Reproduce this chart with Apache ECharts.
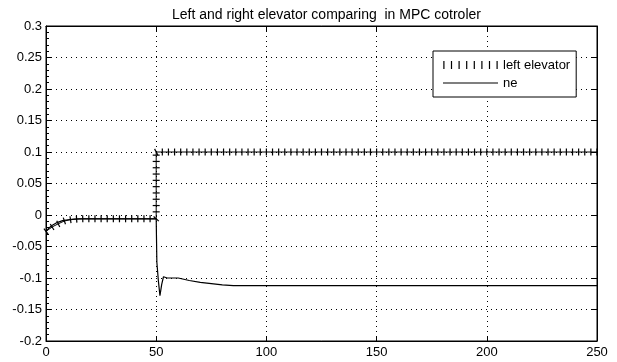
<!DOCTYPE html>
<html>
<head>
<meta charset="utf-8">
<script src="https://cdn.jsdelivr.net/npm/echarts@6/dist/echarts.min.js"></script>
<style>
  html, body { margin: 0; padding: 0; background: #fff; }
  #chart { width: 617px; height: 362px; }
</style>
</head>
<body>
<div id="chart"></div>
<script>
const titleText = 'Left and right elevator comparing  in MPC cotroler';
const seriesNames = ['left elevator', 'ne'];
const xTicks = [0, 50, 100, 150, 200, 250];
const yTicks = [-0.2, -0.15, -0.1, -0.05, 0, 0.05, 0.1, 0.15, 0.2, 0.25, 0.3];

// left elevator: sampled every 50/18 time units from 0 to 250
const leftStep = 50 / 18;
const leftValues = [
  -0.026, -0.019, -0.014, -0.0095, -0.0075, -0.0065, -0.006, -0.006, -0.006, -0.006,
  -0.006, -0.006, -0.006, -0.006, -0.006, -0.006, -0.006, -0.006, -0.006,
  0.1, 0.1, 0.1, 0.1, 0.1, 0.1, 0.1, 0.1, 0.1, 0.1, 0.1, 0.1,
  0.1, 0.1, 0.1, 0.1, 0.1, 0.1, 0.1, 0.1, 0.1, 0.1, 0.1, 0.1,
  0.1, 0.1, 0.1, 0.1, 0.1, 0.1, 0.1, 0.1, 0.1, 0.1, 0.1, 0.1,
  0.1, 0.1, 0.1, 0.1, 0.1, 0.1, 0.1, 0.1, 0.1, 0.1, 0.1, 0.1,
  0.1, 0.1, 0.1, 0.1, 0.1, 0.1, 0.1, 0.1, 0.1, 0.1, 0.1, 0.1,
  0.1, 0.1, 0.1, 0.1, 0.1, 0.1, 0.1, 0.1, 0.1, 0.1, 0.1, 0.1
];
// the step at t = 50: intermediate samples on the rise
const leftStepTime = 50;
const leftRiseValues = [0.005, 0.015, 0.025, 0.035, 0.045, 0.055, 0.065, 0.075, 0.085, 0.095, 0.1];

// ne
const neTimes  = [0, 1, 2.5, 5, 7.5, 10, 12.5, 15, 50, 50.3, 51, 51.7, 52.5, 53.3, 55, 60, 65, 70, 75, 80, 85, 250];
const neValues = [-0.026, -0.022, -0.017, -0.012, -0.009, -0.0075, -0.0065, -0.006, -0.006, -0.075, -0.105, -0.128, -0.11, -0.098, -0.1, -0.1, -0.104, -0.107, -0.109, -0.111, -0.112, -0.112];

const FONT = "'Liberation Sans', Arial, sans-serif";
const grid = { left: 46, right: 20, top: 26, bottom: 21 };
const plotW = 617 - grid.left - grid.right;
const plotH = 362 - grid.top - grid.bottom;

// build left elevator points (time grid + rise at t = 50)
const leftPts = [];
leftValues.forEach((v, k) => {
  const t = +(k * leftStep).toFixed(4);
  leftPts.push([t, v]);
  if (k === 18) leftRiseValues.forEach(r => leftPts.push([leftStepTime, r]));
});

// tick marks drawn perpendicular to the local direction of the curve
const pxX = plotW / (xTicks[xTicks.length - 1] - xTicks[0]);
const pxY = plotH / (yTicks[yTicks.length - 1] - yTicks[0]);
const leftData = leftPts.map((p, i) => {
  const a = leftPts[Math.max(0, i - 1)];
  const b = leftPts[Math.min(leftPts.length - 1, i + 1)];
  const ang = Math.atan2((b[1] - a[1]) * pxY, (b[0] - a[0]) * pxX) * 180 / Math.PI;
  return { value: p, symbolRotate: ang };
});
const neData = neTimes.map((t, i) => [t, neValues[i]]);

// legend samples: a row of vertical ticks, and a plain line
let tickIcon = 'path://';
for (let i = 0; i < 8; i++) {
  const x = (i * 7.6).toFixed(2);
  tickIcon += 'M' + x + ',0h1.2v8h-1.2z';
}
const lineIcon = 'path://M0,0h55v1.2h-55z';

const chart = echarts.init(document.getElementById('chart'), null, { renderer: 'canvas' });

const labelStyle = { color: '#000', fontFamily: FONT, fontSize: 13 };
const dotted = { color: '#000', width: 1, type: [1, 4] };

chart.setOption({
  animation: false,
  backgroundColor: '#fff',
  title: {
    text: titleText,
    left: grid.left + plotW / 2,
    textAlign: 'center',
    top: 3,
    textStyle: { color: '#000', fontFamily: FONT, fontSize: 14, fontWeight: 'normal' }
  },
  grid: Object.assign({ show: true, borderColor: '#000', borderWidth: 1, containLabel: false, outerBoundsMode: 'none' }, grid),
  legend: {
    orient: 'vertical',
    left: 433,
    top: 51,
    padding: [7, 6, 7, 10],
    itemGap: 4,
    itemWidth: 55,
    itemHeight: 8,
    symbolKeepAspect: true,
    borderColor: '#000',
    borderWidth: 1,
    borderRadius: 0,
    backgroundColor: '#fff',
    textStyle: { color: '#000', fontFamily: FONT, fontSize: 13, lineHeight: 14 },
    data: [{ name: seriesNames[0], icon: tickIcon }, { name: seriesNames[1], icon: lineIcon }]
  },
  xAxis: [
    {
      type: 'value', min: xTicks[0], max: xTicks[xTicks.length - 1], interval: 50,
      axisLine: { show: true, onZero: false, lineStyle: { color: '#000' } },
      axisTick: { show: true, inside: true, length: 5, lineStyle: { color: '#000' } },
      axisLabel: Object.assign({ margin: 5 }, labelStyle),
      splitLine: { show: true, lineStyle: dotted }
    },
    {
      type: 'value', position: 'top', min: xTicks[0], max: xTicks[xTicks.length - 1], interval: 50,
      axisLine: { show: true, onZero: false, lineStyle: { color: '#000' } },
      axisTick: { show: true, inside: true, length: 5, lineStyle: { color: '#000' } },
      axisLabel: { show: false },
      splitLine: { show: false }
    }
  ],
  yAxis: [
    {
      type: 'value', min: yTicks[0], max: yTicks[yTicks.length - 1], interval: 0.05,
      axisLine: { show: true, onZero: false, lineStyle: { color: '#000' } },
      axisTick: { show: true, inside: true, length: 5, lineStyle: { color: '#000' } },
      minorTick: { show: true, splitNumber: 5, length: 3, lineStyle: { color: '#000' } },
      axisLabel: Object.assign({ margin: 4 }, labelStyle),
      splitLine: { show: true, lineStyle: dotted }
    },
    {
      type: 'value', position: 'right', min: yTicks[0], max: yTicks[yTicks.length - 1], interval: 0.05,
      axisLine: { show: true, onZero: false, lineStyle: { color: '#000' } },
      axisTick: { show: true, inside: true, length: 5, lineStyle: { color: '#000' } },
      axisLabel: { show: false },
      splitLine: { show: false }
    }
  ],
  series: [
    {
      name: seriesNames[0],
      type: 'line',
      data: leftData,
      showAllSymbol: true,
      symbol: 'rect',
      symbolSize: [1.2, 7],
      lineStyle: { color: '#000', width: 1 },
      itemStyle: { color: '#000' },
      emphasis: { disabled: true },
      clip: false,
      z: 3
    },
    {
      name: seriesNames[1],
      type: 'line',
      data: neData,
      symbol: 'none',
      lineStyle: { color: '#000', width: 1.2 },
      itemStyle: { color: '#000' },
      emphasis: { disabled: true },
      z: 4
    }
  ]
});
</script>
</body>
</html>
